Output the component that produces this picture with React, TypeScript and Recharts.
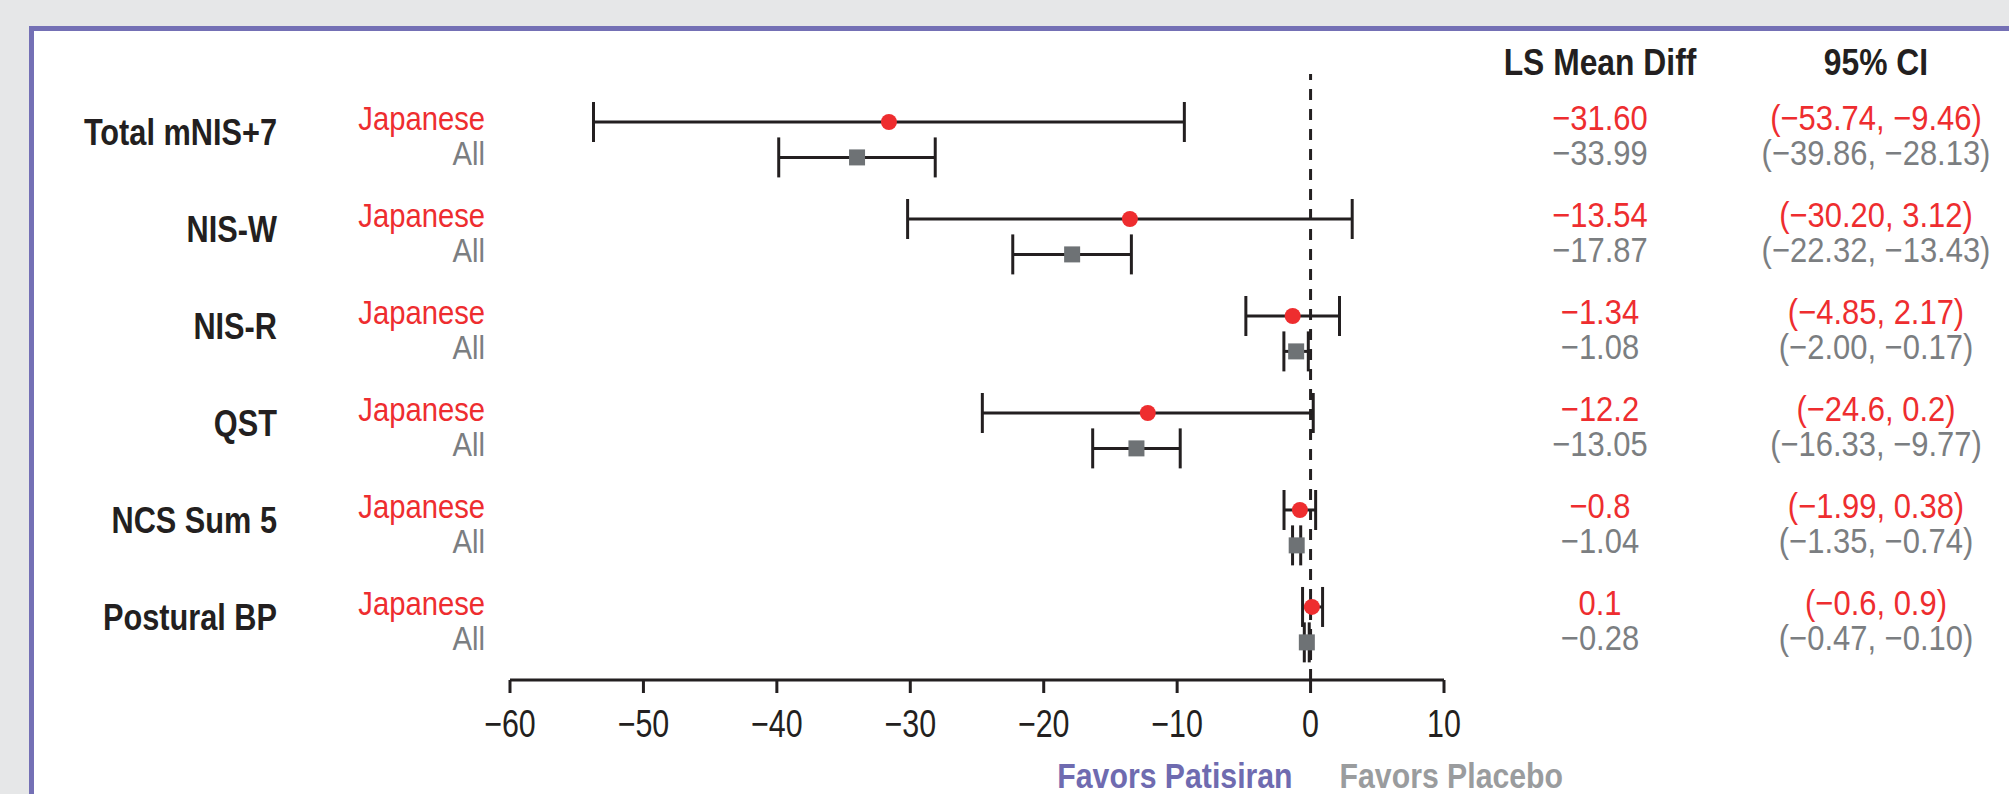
import { ScatterChart, Scatter, XAxis, YAxis, ErrorBar, ReferenceLine } from "recharts";

const measures = ["Total mNIS+7", "NIS-W", "NIS-R", "QST", "NCS Sum 5", "Postural BP"];

// Japanese subgroup
const jpMean = [-31.6, -13.54, -1.34, -12.2, -0.8, 0.1];
const jpLow = [-53.74, -30.2, -4.85, -24.6, -1.99, -0.6];
const jpHigh = [-9.46, 3.12, 2.17, 0.2, 0.38, 0.9];
const jpMeanDp = [2, 2, 2, 1, 1, 1];
const jpCiDp = [2, 2, 2, 1, 2, 1];

// overall population
const allMean = [-33.99, -17.87, -1.08, -13.05, -1.04, -0.28];
const allLow = [-39.86, -22.32, -2.0, -16.33, -1.35, -0.47];
const allHigh = [-28.13, -13.43, -0.17, -9.77, -0.74, -0.1];

const xTicks = [-60, -50, -40, -30, -20, -10, 0, 10];

const FONT = "'Liberation Sans', Arial, sans-serif";
const INK = "#231f20";
const RED = "#ee2d2f";
const GRAY = "#7b7e81";
const SQ = "#6e7275";
const PURPLE = "#6f6bb0";

const ALL_OFFSET = 0.365;
const Y_TOP = -0.495;
const Y_BOTTOM = 5.753;

const minus = (s: string) => s.replace(/-/g, "\u2212");
const fmt = (v: number, dp: number) => minus(v.toFixed(dp));

const rows = measures.flatMap((m, g) => [
  { g, kind: "jp", pos: g },
  { g, kind: "all", pos: g + ALL_OFFSET },
]);

const jpData = measures.map((m, g) => ({ x: jpMean[g], y: g, err: [jpMean[g] - jpLow[g], jpHigh[g] - jpMean[g]] }));
const allData = measures.map((m, g) => ({ x: allMean[g], y: g + ALL_OFFSET, err: [allMean[g] - allLow[g], allHigh[g] - allMean[g]] }));

// condensed text: regular font squeezed horizontally
const CText = ({ x, y, anchor = "start", size, bold, fill, sx = 0.86, children }: any) => (
  <g transform={`translate(${x},${y}) scale(${sx},1)`}>
    <text x={0} y={0} textAnchor={anchor} fontFamily={FONT} fontSize={size} fontWeight={bold ? "bold" : "normal"} fill={fill}>
      {children}
    </text>
  </g>
);

const RowTick = (props: any) => {
  const { y, payload } = props;
  const r = rows.find((row) => Math.abs(row.pos - payload.value) < 1e-6);
  if (!r) return null;
  const g = r.g;
  const isJp = r.kind === "jp";
  const color = isJp ? RED : GRAY;
  const mean = isJp ? fmt(jpMean[g], jpMeanDp[g]) : fmt(allMean[g], 2);
  const ci = isJp
    ? `(${fmt(jpLow[g], jpCiDp[g])}, ${fmt(jpHigh[g], jpCiDp[g])})`
    : `(${fmt(allLow[g], 2)}, ${fmt(allHigh[g], 2)})`;
  return (
    <g>
      {isJp && <CText x={277} y={y + 23} anchor="end" size={37} bold fill={INK} sx={0.83}>{measures[g]}</CText>}
      <CText x={485} y={y + 8} anchor="end" size={34} fill={color}>{isJp ? "Japanese" : "All"}</CText>
      <CText x={1600} y={y + 8} anchor="middle" size={36} fill={color}>{mean}</CText>
      <CText x={1876} y={y + 8} anchor="middle" size={36} fill={color}>{ci}</CText>
    </g>
  );
};

const XTick = (props: any) => {
  const { x, y, payload } = props;
  return <CText x={x} y={y + 32} anchor="middle" size={38} fill={INK} sx={0.8}>{minus(String(payload.value))}</CText>;
};

const Headers = () => (
  <g>
    <CText x={1600} y={75} anchor="middle" size={37} bold fill={INK}>LS Mean Diff</CText>
    <CText x={1876} y={75} anchor="middle" size={37} bold fill={INK}>95% CI</CText>
  </g>
);

const FavorsLabel = (props: any) => {
  const vb = props.viewBox || {};
  const x0 = vb.x ?? 0;
  const yb = (vb.y ?? 0) + (vb.height ?? 0);
  return (
    <g>
      <CText x={x0 - 18} y={yb + 108} anchor="end" size={36} bold fill={PURPLE} sx={0.84}>Favors Patisiran</CText>
      <CText x={x0 + 29} y={yb + 108} anchor="start" size={36} bold fill="#9a9c9e" sx={0.84}>Favors Placebo</CText>
    </g>
  );
};

const Dot = (p: any) => <circle cx={p.cx} cy={p.cy} r={8} fill={RED} />;
const Square = (p: any) => <rect x={p.cx - 8} y={p.cy - 8} width={16} height={16} fill={SQ} />;

export default function App() {
  return (
    <div style={{ position: "absolute", left: 0, top: 0, width: 2009, height: 794, background: "#e6e7e8", overflow: "hidden" }}>
      <div style={{ position: "absolute", left: 29, top: 26, width: 2100, height: 900, background: "#fff", border: "5px solid #7470b5", boxSizing: "border-box" }} />
      <div style={{ position: "absolute", left: 0, top: 0 }}>
        <ScatterChart width={2009} height={794} margin={{ top: 74, right: 565, bottom: 54, left: 30 }}>
          <XAxis type="number" dataKey="x" domain={[-60, 10]} ticks={xTicks} interval={0} allowDataOverflow
            height={60} tickSize={13} tickMargin={12}
            axisLine={{ stroke: INK, strokeWidth: 3 }} tickLine={{ stroke: INK, strokeWidth: 3 }}
            tick={<XTick />} />
          <YAxis type="number" dataKey="y" domain={[Y_TOP, Y_BOTTOM]} reversed allowDataOverflow
            ticks={rows.map((r) => r.pos)} interval={0} width={480} axisLine={false} tickLine={false}
            tick={<RowTick />} label={<Headers />} />
          <ReferenceLine x={0} stroke={INK} strokeWidth={3} strokeDasharray="11 9" label={<FavorsLabel />} />
          <Scatter data={jpData} shape={Dot} isAnimationActive={false}>
            <ErrorBar dataKey="err" direction="x" width={20} stroke={INK} strokeWidth={3} isAnimationActive={false} />
          </Scatter>
          <Scatter data={allData} shape={Square} isAnimationActive={false}>
            <ErrorBar dataKey="err" direction="x" width={20} stroke={INK} strokeWidth={3} isAnimationActive={false} />
          </Scatter>
        </ScatterChart>
      </div>
    </div>
  );
}
